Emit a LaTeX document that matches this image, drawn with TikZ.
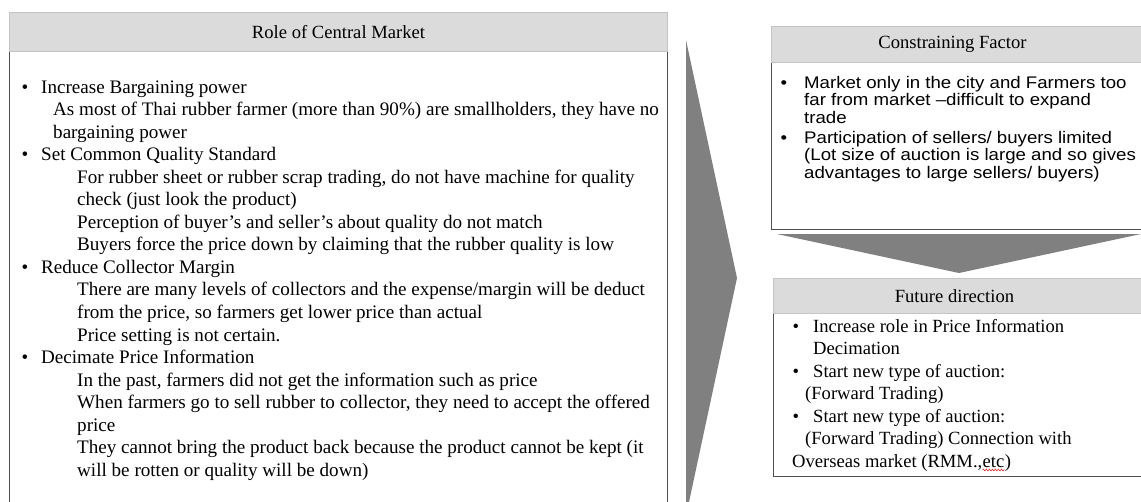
\documentclass[tikz,border=0pt]{standalone}
\usepackage{fontspec}
\setmainfont{Liberation Serif}
\newfontfamily\arialfont[FakeStretch=1.11]{Liberation Sans}
\usetikzlibrary{decorations.pathmorphing}
\definecolor{headfill}{HTML}{DBDBDB}
\definecolor{headline}{HTML}{C4C4C4}
\definecolor{boxline}{HTML}{505050}
\definecolor{arrowfill}{HTML}{808080}
\definecolor{squiggle}{HTML}{E03030}

\begin{document}
\begin{tikzpicture}[x=1pt,y=-1pt,
  headbox/.style={draw=headline, fill=headfill, line width=1pt, inner sep=0pt,
    anchor=north west, font=\fontsize{18.6}{22}\selectfont},
  bodybox/.style={draw=boxline, line width=1.3pt, inner sep=0pt, anchor=north west},
  serifline/.style={anchor=base west, inner sep=0pt, font=\fontsize{18.6}{22}\selectfont},
  bigserifline/.style={anchor=base west, inner sep=0pt, font=\fontsize{19.1}{22}\selectfont},
  sansline/.style={anchor=base west, inner sep=0pt, font=\arialfont\fontsize{16.8}{20}\selectfont},
  chevron/.style={fill=arrowfill, draw=none}]

\useasboundingbox (0,0) rectangle (1141,501);
\clip (0,0) rectangle (1141,501);

% ---- Role of Central Market ----
\node[bodybox, minimum width=658pt, minimum height=480pt] (rolebody) at (9,51) {};
\node[headbox, minimum width=658pt, minimum height=39pt] (rolehead) at (9,12) {Role of Central Market};

\foreach \px/\txt [count=\i from 0] in {
  41/{\llap{•\hspace{13pt}}Increase Bargaining power},
  53/{As most of Thai rubber farmer (more than 90\%) are smallholders, they have no},
  53/{bargaining power},
  41/{\llap{•\hspace{13pt}}Set Common Quality Standard},
  77/{For rubber sheet or rubber scrap trading, do not have machine for quality},
  77/{check (just look the product)},
  77/{Perception of buyer’s and seller’s about quality do not match},
  77/{Buyers force the price down by claiming that the rubber quality is low},
  41/{\llap{•\hspace{13pt}}Reduce Collector Margin},
  77/{There are many levels of collectors and the expense/margin will be deduct},
  77/{from the price, so farmers get lower price than actual},
  77/{Price setting is not certain.},
  41/{\llap{•\hspace{13pt}}Decimate Price Information},
  77/{In the past, farmers did not get the information such as price},
  77/{When farmers go to sell rubber to collector, they need to accept the offered},
  77/{price},
  77/{They cannot bring the product back because the product cannot be kept (it},
  77/{will be rotten or quality will be down)}}
  \node[bigserifline] (role\i) at (\px, 93+22.55*\i) {\txt};

% ---- big arrow to the right ----
\fill[chevron] (686,40) -- (737,278) -- (686,516) -- cycle;

% ---- Constraining Factor ----
\node[bodybox, minimum width=372pt, minimum height=167pt] (conbody) at (771,62) {};
\node[headbox, minimum width=372pt, minimum height=36pt] (conhead) at (771,26) {\hspace{-10pt}Constraining Factor};

\foreach \py/\txt [count=\i] in {
  88/{\llap{•\hspace{17pt}}Market only in the city and Farmers too},
  105.5/{far from market –difficult to expand},
  123/{trade},
  143/{\llap{•\hspace{17pt}}Participation of sellers/ buyers limited},
  160.5/{(Lot size of auction is large and so gives},
  178/{advantages to large sellers/ buyers)}}
  \node[sansline] (con\i) at (804, \py) {\txt};

% ---- arrow down ----
\fill[chevron] (777,234) -- (1141,234) -- (959,273) -- cycle;

% ---- Future direction ----
\node[bodybox, minimum width=370pt, minimum height=163pt] (futbody) at (773,313) {};
\node[headbox, minimum width=370pt, minimum height=35pt] (futhead) at (773,278) {\hspace{-8pt}Future direction};

\foreach \px/\py/\txt [count=\i] in {
  813/332/{\llap{•\hspace{14pt}}Increase role in Price Information},
  813/354.5/{Decimation},
  813/377/{\llap{•\hspace{14pt}}Start new type of auction:},
  805/399.5/{(Forward Trading)},
  813/422/{\llap{•\hspace{14pt}}Start new type of auction:},
  805/444.5/{(Forward Trading) Connection with}}
  \node[serifline] (fut\i) at (\px, \py) {\txt};

\node[serifline] (fut7) at (792, 467) {Overseas market (RMM.,};
\node[serifline] (fut7etc) at (fut7.base east) {etc};
\node[serifline] (fut7end) at (fut7etc.base east) {)};
\draw[squiggle, line width=0.6pt, decorate,
      decoration={snake, amplitude=0.9pt, segment length=3pt}]
  ([yshift=-3pt]fut7etc.base west) -- ([yshift=-3pt]fut7etc.base east);

\end{tikzpicture}
\end{document}
